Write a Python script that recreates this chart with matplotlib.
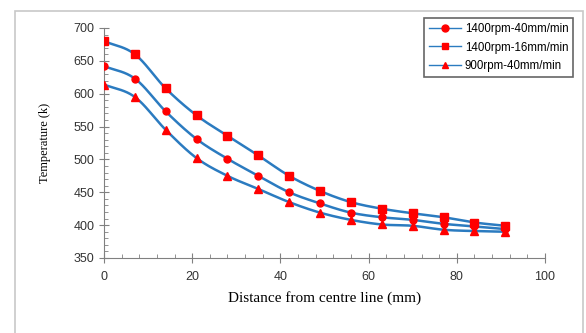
import numpy as np
import matplotlib
matplotlib.use("Agg")
import matplotlib.pyplot as plt
from matplotlib.ticker import MultipleLocator
from matplotlib.patches import Rectangle
from matplotlib.lines import Line2D

# distance from centre line (mm) and temperature (K) per run
distance = [0, 7, 14, 21, 28, 35, 42, 49, 56, 63, 70, 77, 84, 91]
t_1400_40 = [642, 623, 573, 531, 501, 475, 450, 433, 419, 412, 408, 402, 398, 394]
t_1400_16 = [680, 660, 608, 567, 536, 506, 475, 452, 435, 425, 418, 412, 404, 399]
t_900_40 = [614, 595, 545, 502, 475, 455, 435, 419, 408, 401, 399, 393, 391, 390]
labels = ["1400rpm-40mm/min", "1400rpm-16mm/min", "900rpm-40mm/min"]
markers = ["o", "s", "^"]

LINE, MARK, AXC = "#2b7bc0", "#ff0000", "#808080"


def smooth(x, y, n=20):
    # catmull-rom through the points, like the spreadsheet "smoothed line"
    x = np.asarray(x, float); y = np.asarray(y, float)
    px = np.r_[2 * x[0] - x[1], x, 2 * x[-1] - x[-2]]
    py = np.r_[2 * y[0] - y[1], y, 2 * y[-1] - y[-2]]
    xs, ys = [], []
    t = np.linspace(0, 1, n, endpoint=False)
    for i in range(1, len(px) - 2):
        for p, out in ((px, xs), (py, ys)):
            p0, p1, p2, p3 = p[i - 1:i + 3]
            out.extend(0.5 * (2 * p1 + (-p0 + p2) * t + (2 * p0 - 5 * p1 + 4 * p2 - p3) * t ** 2
                              + (-p0 + 3 * p1 - 3 * p2 + p3) * t ** 3))
    xs.append(x[-1]); ys.append(y[-1])
    return np.array(xs), np.array(ys)


fig = plt.figure(figsize=(5.86, 3.33), dpi=100)
fig.patches.append(Rectangle((15 / 586, -0.05), 568 / 586, 1 - 11 / 333 + 0.05,
                             transform=fig.transFigure, fill=False, ec="#c8c8c8", lw=1.2))
ax = fig.add_axes([104 / 586, 1 - 258 / 333, 441 / 586, 230 / 333])

handles = []
for ys, m, lab in zip([t_1400_40, t_1400_16, t_900_40], markers, labels):
    sx, sy = smooth(distance, ys)
    ax.plot(sx, sy, color=LINE, lw=1.8, zorder=2)
    ax.plot(distance, ys, ls="none", marker=m, ms=5.5 if m != "o" else 5,
            mfc=MARK, mec=MARK, zorder=3)
    handles.append(Line2D([], [], color=LINE, lw=1, marker=m, ms=5, mfc=MARK, mec=MARK))

ax.set_xlim(0, 100)
ax.set_ylim(350, 700)
ax.xaxis.set_major_locator(MultipleLocator(20))
ax.xaxis.set_minor_locator(MultipleLocator(4))
ax.yaxis.set_major_locator(MultipleLocator(50))
ax.yaxis.set_minor_locator(MultipleLocator(10))
for s in ("top", "right"):
    ax.spines[s].set_visible(False)
for s in ("left", "bottom"):
    ax.spines[s].set_color(AXC)
ax.tick_params(which="major", direction="inout", length=7, color=AXC, labelsize=9,
               labelcolor="#333333")
ax.tick_params(which="minor", direction="in", length=3, color=AXC)
for lb in ax.get_xticklabels() + ax.get_yticklabels():
    lb.set_family("Liberation Sans")
ax.tick_params(axis="x", pad=6)

ax.set_xlabel("Distance from centre line (mm)", family="Liberation Serif", fontsize=11, labelpad=6)
ax.set_ylabel("Temperature (k)", family="Liberation Serif", fontsize=9, labelpad=16)

leg = fig.legend(handles, labels, loc="upper right", bbox_to_anchor=(573 / 586, 1 - 18 / 333),
                 frameon=True, fancybox=False, edgecolor="#404040",
                 handlelength=2.8, borderpad=0.4, labelspacing=0.6, handletextpad=0.3,
                 borderaxespad=0, prop={"family": "Liberation Sans", "size": 8.3})
leg.get_frame().set_linewidth(1.2)

fig.savefig("out.png", dpi=100)
